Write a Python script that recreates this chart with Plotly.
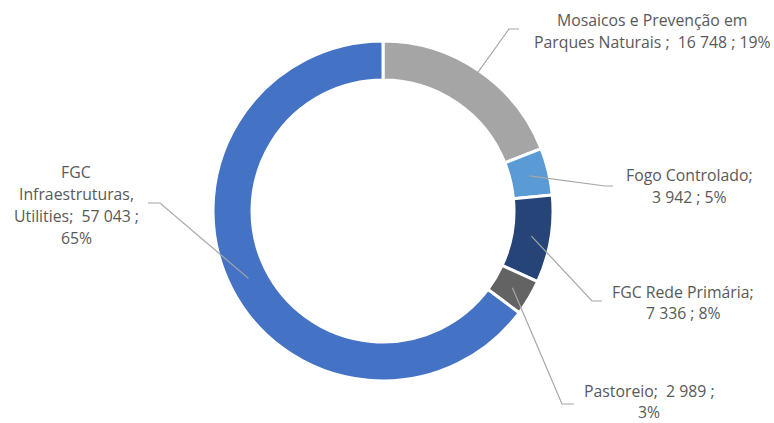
import math
import plotly.graph_objects as go

# ---- data ----
categories = ["Mosaicos e Prevenção em Parques Naturais", "Fogo Controlado",
              "FGC Rede Primária", "Pastoreio", "FGC Infraestruturas, Utilities"]
values = [16748, 3942, 7336, 2989, 57043]
value_labels = ["16 748", "3 942", "7 336", "2 989", "57 043"]
pct_labels = ["19%", "5%", "8%", "3%", "65%"]
colors = ["#A5A5A5", "#5B9BD5", "#264478", "#636363", "#4472C4"]

# label text lines (as shown in the chart)
label_lines = [
    ["Mosaicos e Prevenção em", "Parques Naturais ;  16 748 ; 19%"],
    ["Fogo Controlado;", "3 942 ; 5%"],
    ["FGC Rede Primária;", "7 336 ; 8%"],
    ["Pastoreio;  2 989 ;", "3%"],
    ["FGC", "Infraestruturas,", "Utilities;  57 043 ;", "65%"],
]

# ---- layout (pixels) ----
W, H = 774, 423
CX, CY, R_OUT, R_IN = 383, 211, 170, 131
# label centre x, first-line y, line spacing
label_pos = [(652, 20, 22), (689, 175, 22), (683, 292, 21), (649, 391, 21), (76, 172, 22)]
# leader elbow and end points
leader_pts = [((509, 29), (519, 29)), ((605, 186), (613, 186)), ((592, 301), (602, 301)),
              ((562, 404), (574, 404)), ((160, 203), (148, 203))]

def px(x):
    return x / W

def py(y):
    return 1 - y / H

fig = go.Figure(go.Pie(
    labels=categories, values=values, sort=False, direction="clockwise", rotation=0,
    hole=R_IN / R_OUT, textinfo="none", hoverinfo="label+value+percent",
    marker=dict(colors=colors, line=dict(color="white", width=3)),
    domain=dict(x=[px(CX - R_OUT), px(CX + R_OUT)], y=[py(CY + R_OUT), py(CY - R_OUT)]),
    showlegend=False,
))

total = sum(values)
cum = 0
shapes = []
annotations = []
r_mid = (R_OUT + R_IN) / 2
for i, v in enumerate(values):
    mid = (cum + v / 2) / total * 2 * math.pi
    cum += v
    sx = CX + r_mid * math.sin(mid)
    sy = CY - r_mid * math.cos(mid)
    (ex, ey), (fx, fy) = leader_pts[i]
    shapes.append(dict(type="path", xref="paper", yref="paper",
                       path=f"M {px(sx)},{py(sy)} L {px(ex)},{py(ey)} L {px(fx)},{py(fy)}",
                       line=dict(color="#A6A6A6", width=1.2)))
    lx, ly, ls = label_pos[i]
    for j, line in enumerate(label_lines[i]):
        annotations.append(dict(x=px(lx), y=py(ly + j * ls), xref="paper", yref="paper",
                                text=line, showarrow=False, xanchor="center", yanchor="middle",
                                borderpad=0,
                                font=dict(family="Open Sans", size=15.8, color="#595959")))

fig.update_layout(width=W, height=H, margin=dict(l=0, r=0, t=0, b=0),
                  paper_bgcolor="white", plot_bgcolor="white",
                  shapes=shapes, annotations=annotations)
fig.write_html("out.html", config={"displayModeBar": False},
               post_script="document.body.style.margin='0';")
